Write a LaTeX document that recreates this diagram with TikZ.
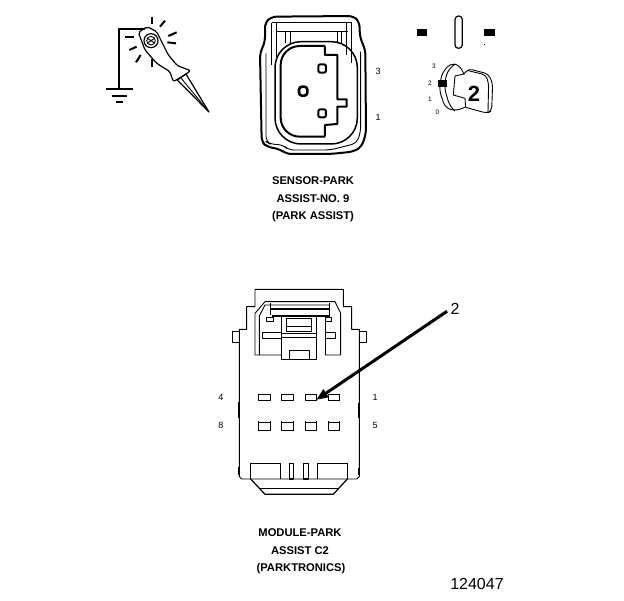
\documentclass[tikz,border=0pt]{standalone}
\usepackage{fontspec}
\setmainfont{Liberation Sans}
\usetikzlibrary{arrows.meta}
\usetikzlibrary{positioning}
\begin{document}
\begin{tikzpicture}[x=1pt,y=-1pt,line join=round]
  \tikzset{thinline/.style = {draw,line width=0.9pt}}
  \tikzset{midline/.style = {draw,line width=1.2pt}}
  \tikzset{heavyline/.style = {draw,line width=2pt}}
  \tikzset{caption/.style = {font=\fontsize{11.2}{12}\selectfont\bfseries,inner sep=0pt}}
  \tikzset{pinlabel/.style = {font=\fontsize{9}{10}\selectfont,inner sep=0pt}}
  \tikzset{tinylabel/.style = {font=\fontsize{6.5}{8}\selectfont,inner sep=0pt}}
  \tikzset{zoomed/.style = {x=0.3333pt,y=-0.3333pt}}
  \tikzset{%
  tipA/.tip={Triangle[angle=40:13pt]},
}
  \useasboundingbox (0,0) rectangle (624,600);

  % probe and ground
  \begin{scope}[shift={(90,0)},zoomed]
    \draw[heavyline] (165,87) -- (87,87) -- (87,268);
    \draw[heavyline] (48,268) -- (128,268);
    \draw[heavyline] (65,287) -- (110,287);
    \draw[heavyline] (78,305) -- (100,305);
    \draw[midline,rounded corners=2pt] (145,97) -- (172,80) -- (200,95) -- (215,125) -- (235,165) -- (262,197) -- (302,212)
      -- (285,224) -- (250,245) -- (240,215) -- (200,190) -- (165,150) -- cycle;
    \draw[midline] (262,240) -- (288,222) -- (357,336) -- cycle;
    \draw[thinline] (272,233) -- (357,336);
    \draw[midline] (183,122) circle (21);
    \draw[thinline] (183,122) circle (13);
    \draw[thinline] (174,116) -- (192,128) (174,128) -- (192,116);
    \foreach \xa/\ya/\xb/\yb in {185/50/185/72, 225/62/210/80, 260/97/235/108, 258/130/232/127,
      105/110/132/110, 140/140/118/150, 152/165/138/187, 185/178/185/200}
      \draw[heavyline] (\xa,\ya) -- (\xb,\yb);
  \end{scope}

  % sensor connector
  \begin{scope}[shift={(250,0)},zoomed]
    \draw[heavyline,rounded corners=5pt] (45,68) -- (65,50) -- (310,48) -- (328,65) -- (330,112) -- (346,150) -- (348,400)
      -- (335,440) -- (310,455) -- (240,462) -- (110,462) -- (90,448) -- (50,440) -- (35,425) -- (30,160) -- (45,125) -- cycle;
    \draw[thinline,rounded corners=5pt] (48,160) -- (48,425) -- (60,432) -- (100,435) -- (115,450) -- (240,450) -- (320,430) -- (332,395) -- (332,155);
    \draw[midline] (65,68) -- (305,68);
    \draw[midline] (80,95) -- (295,95);
    \foreach \xa/\yb in {65/195, 80/170, 305/190, 290/165}
      \draw[thinline] (\xa,68) -- (\xa,\yb);
    \foreach \xa in {105,120,262,275}
      \draw[thinline] (\xa,95) -- (\xa,128);
    \draw[midline,line width=1.5pt,rounded corners=26pt] (75,125) rectangle (322,432);
    \draw[heavyline,rounded corners=19pt] (225,138) -- (92,138) -- (92,410) -- (225,410);
    \draw[heavyline] (225,138) -- (225,165) -- (262,165) -- (262,298) -- (290,298) -- (290,320) -- (262,320) -- (262,372)
      -- (225,375) -- (225,410);
    \draw[heavyline,rounded corners=2pt] (205,193) rectangle (228,218);
    \draw[line width=2.6pt,rounded corners=3pt] (147,260) rectangle (172,287);
    \draw[heavyline,rounded corners=2pt] (205,328) rectangle (228,352);
  \end{scope}
  \node[tinylabel,font=\fontsize{9}{10}\selectfont] (lblThree) at (378,71) {3};
  \node[tinylabel,font=\fontsize{9}{10}\selectfont] (lblOne) at (378,117) {1};
  \node[caption] (capA) at (313,181) {SENSOR-PARK};
  \node[caption] (capB) at (313,199) {ASSIST-NO. 9};
  \node[caption] (capC) at (313,217) {(PARK ASSIST)};

  % cavity key
  \begin{scope}[shift={(400,0)},zoomed]
    \fill (50,87) rectangle (80,107);
    \fill (252,87) rectangle (284,107);
    \fill (252,132) rectangle (255,135);
    \draw[midline,rounded corners=3.5pt] (165,48) rectangle (187,145);
    \draw[thinline,rounded corners=5pt] (192,222) -- (178,195) -- (150,190) -- (125,222) -- (118,270) -- (135,322) -- (165,333) -- (195,322);
    \draw[thinline,rounded corners=6pt] (165,192) -- (140,215) -- (133,265) -- (150,320) -- (165,333);
    \draw[thinline] (192,222) -- (165,228) -- (160,285) -- (195,295) -- (197,322);
    \draw[thinline,rounded corners=4pt] (192,222) -- (205,206) -- (265,222) -- (278,250) -- (275,332) -- (262,340) -- (197,322);
    \draw[thinline,rounded corners=4pt] (205,212) -- (258,225) -- (266,250) -- (264,336);
    \fill (115,241) rectangle (141,260);
    \node[inner sep=0pt,font=\fontsize{22}{24}\selectfont\bfseries] (keyTwo) at (222,282) {2};
    \node[tinylabel] (keyD) at (102,200) {3};
    \node[tinylabel] (keyC) at (90,250) {2};
    \node[tinylabel] (keyB) at (90,297) {1};
    \node[tinylabel] (keyA) at (112,338) {0};
  \end{scope}

  % module connector
  \begin{scope}[shift={(210,280)},zoomed]
    \draw[thinline] (88,590) -- (88,148) -- (110,148) -- (110,80) -- (135,80) -- (135,28) -- (400,28) -- (400,80) -- (425,80)
      -- (425,148) -- (448,148) -- (448,590) -- (440,597) -- (95,597) -- cycle;
    \draw[thinline] (68,155) rectangle (88,187);
    \draw[thinline] (448,155) rectangle (468,187);
    \foreach \xa/\ya/\yb in {86/365/415, 86/560/585, 448/370/415, 448/565/585}
      \draw[heavyline] (\xa,\ya) -- (\xa,\yb);
    \draw[thinline] (215,225) -- (135,225) -- (135,100) -- (165,65) -- (375,65) -- (392,100) -- (392,225) -- (345,225);
    \draw[thinline] (148,225) -- (148,108) -- (165,75) -- (358,75);
    \draw[thinline] (180,70) -- (180,105);
    \draw[thinline] (358,70) -- (358,105);
    \draw[heavyline] (180,88) -- (358,88);
    \draw[heavyline] (185,108) -- (360,108);
    \draw[thinline] (215,108) -- (215,238) -- (318,238) -- (318,108);
    \draw[thinline] (230,115) rectangle (303,155);
    \draw[thinline] (230,140) -- (303,140);
    \draw[thinline] (215,160) -- (318,160);
    \draw[midline] (215,172) -- (318,172);
    \draw[thinline] (238,212) rectangle (298,237);
    \draw[thinline] (157,157) rectangle (215,175);
    \draw[thinline] (345,157) rectangle (377,175);
    \draw[thinline] (345,108) -- (345,225);
    \draw[thinline] (170,112) rectangle (190,123);
    \draw[thinline] (345,112) rectangle (365,123);
    \foreach \xa/\xb in {145/180, 215/250, 285/320, 355/388}
    {
      \draw[thinline] (\xa,343) rectangle (\xb,362);
      \draw[thinline] (\xa,423) -- (\xa,450) -- (\xb,450) -- (\xb,423);
      \draw[thinline] (\xa,427) -- (\xb,427);
    }
    \draw[thinline] (122,597) -- (122,550) -- (210,550) -- (210,597);
    \draw[thinline] (322,597) -- (322,550) -- (412,550) -- (412,597);
    \draw[midline] (238,550) rectangle (250,597);
    \draw[midline] (280,550) rectangle (295,597);
    \draw[midline] (122,597) -- (165,643) -- (370,643) -- (412,597);
    \draw[thinline] (150,625) -- (385,625);
  \end{scope}
  \node[pinlabel] (lblFour) at (221,397) {4};
  \node[pinlabel] (lblEight) at (221,425) {8};
  \node[pinlabel] (lblFirst) at (375,397) {1};
  \node[pinlabel] (lblFive) at (375,425) {5};
  \node[caption] (capD) at (300,533) {MODULE-PARK};
  \node[caption] (capE) at (300,551) {ASSIST C2};
  \node[caption] (capF) at (301,569) {(PARKTRONICS)};

  \node[inner sep=0pt,font=\fontsize{16}{18}\selectfont] (lblTwo) at (455,309) {2};
  \coordinate (pinTip) at (316,400);
  \draw[-tipA,line width=3pt,shorten <=4pt] (lblTwo.west) -- (pinTip);
  \node[inner sep=0pt,font=\fontsize{16}{18}\selectfont] (drawNo) at (477,584) {124047};
\end{tikzpicture}
\end{document}
